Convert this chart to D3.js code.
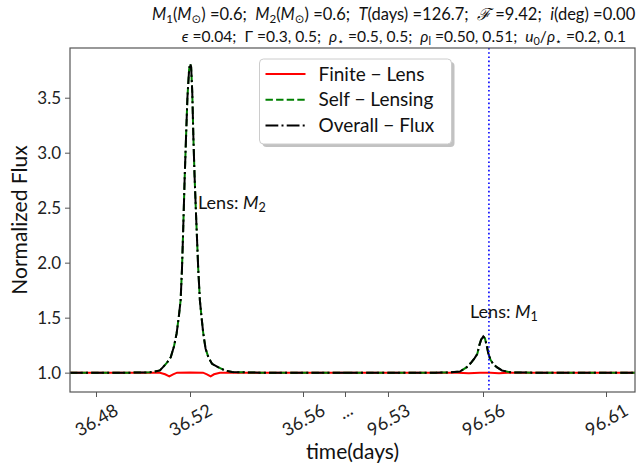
<!DOCTYPE html>
<html><head><meta charset="utf-8">
<script src="https://cdn.jsdelivr.net/npm/d3@7"></script>
<style>body{margin:0;background:#fff}svg{display:block}</style>
</head><body><svg id="c" width="641" height="466"></svg>
<script>
// ---- data ----
const seg1Time    = [36.469,36.495,36.5030,36.5051,36.5072,36.5085,36.5102,36.5118,36.5132,36.5143,36.5153,36.5160,36.5166,36.5171,36.5177,36.5183,36.5189,36.5196,36.5200,36.5204,36.5208,36.5212,36.5216,36.5221,36.5224,36.5229,36.5235,36.5241,36.5247,36.5255,36.5265,36.5278,36.5299,36.5324,36.5349,36.545,36.575];
const seg1Self    = [1.0,1.0,1.003,1.01,1.02,1.05,1.09,1.14,1.24,1.356,1.52,1.657,1.95,2.3,2.75,3.135,3.5,3.75,3.81,3.78,3.55,3.135,2.8,2.46,2.27,1.95,1.657,1.5,1.356,1.22,1.14,1.08,1.05,1.02,1.005,1.0,1.0];
const seg1Overall = [1.0,1.0,1.003,1.01,1.02,1.05,1.09,1.14,1.24,1.356,1.52,1.657,1.95,2.3,2.75,3.135,3.5,3.75,3.81,3.78,3.55,3.135,2.8,2.46,2.27,1.95,1.657,1.5,1.356,1.22,1.14,1.08,1.05,1.02,1.005,1.0,1.0];
const seg1FiniteTime = [36.469,36.503,36.5072,36.5094,36.5112,36.5128,36.5145,36.5200,36.5246,36.5260,36.5273,36.5285,36.5306,36.535,36.575];
const seg1Finite     = [1.0,1.0,0.998,0.985,0.966,0.985,1.0,1.002,1.0,0.985,0.966,0.985,0.998,1.0,1.0];

const seg2Time    = [96.516,96.545,96.5496,96.5527,96.5549,96.5562,96.5573,96.5582,96.5588,96.5594,96.5601,96.5608,96.5615,96.5622,96.5630,96.5641,96.5656,96.5677,96.5710,96.58,96.622];
const seg2Self    = [1.0,1.0,1.002,1.01,1.05,1.09,1.13,1.17,1.246,1.30,1.33,1.31,1.246,1.17,1.12,1.08,1.05,1.02,1.003,1.0,1.0];
const seg2Overall = [1.0,1.0,1.002,1.01,1.05,1.09,1.13,1.17,1.246,1.30,1.33,1.31,1.246,1.17,1.12,1.08,1.05,1.02,1.003,1.0,1.0];
const seg2FiniteTime = [96.516,96.552,96.5555,96.559,96.563,96.5665,96.570,96.622];
const seg2Finite     = [1.0,1.0,0.994,1.0,1.0,0.994,1.0,1.0];

const markerTime = 96.5624;
const xTickValues = [36.48,36.52,36.56,36.575,96.53,96.56,96.61];
const xTickLabels = ["36.48","36.52","36.56","...","96.53","96.56","96.61"];
const yTickValues = [1.0,1.5,2.0,2.5,3.0,3.5];
// broken time axis: scale breakpoints (time) and their fraction of plot width
const xBreakDomain = [36.469,36.48,36.52,36.56,36.575,96.516,96.53,96.56,96.61,96.622];
const xBreakFrac   = [0,0.046,0.2124,0.4124,0.4867,0.4867,0.5628,0.731,0.9487,1];
const yDomain = [0.824,3.952];
const legendLabels = ["Finite \u2212 Lens","Self \u2212 Lensing","Overall \u2212 Flux"];

// ---- layout ----
const W=641,H=466, m={l:70,t:48,r:6,b:74};
const pw=W-m.l-m.r, ph=H-m.t-m.b;
const FONT="Lato, 'Open Sans', sans-serif";
const svg=d3.select("#c").style("font-family",FONT);
const x=d3.scaleLinear().domain(xBreakDomain).range(xBreakFrac.map(f=>m.l+f*pw));
const y=d3.scaleLinear().domain(yDomain).range([m.t+ph,m.t]);

const styles={
  finite:{stroke:"#ff0000",dash:null},
  self:{stroke:"#008000",dash:"7.4,3.2"},
  overall:{stroke:"#000000",dash:"12.8,3.2,2,3.2"}
};
const line=d3.line().x(d=>x(d[0])).y(d=>y(d[1]));
const g=svg.append("g");
function draw(times,vals,st){
  g.append("path").datum(times.map((t,i)=>[t,vals[i]]))
   .attr("d",line).attr("fill","none").attr("stroke",st.stroke).attr("stroke-width",2)
   .attr("stroke-dasharray",st.dash);
}
draw(seg1FiniteTime,seg1Finite,styles.finite);
draw(seg2FiniteTime,seg2Finite,styles.finite);
draw(seg1Time,seg1Self,styles.self);
draw(seg2Time,seg2Self,styles.self);
draw(seg1Time,seg1Overall,styles.overall);
draw(seg2Time,seg2Overall,styles.overall);

// vertical marker
g.append("line").attr("x1",x(markerTime)).attr("x2",x(markerTime))
 .attr("y1",m.t).attr("y2",m.t+ph).attr("stroke","#0000ff").attr("stroke-width",1.6)
 .attr("stroke-dasharray","1.6,2.6");

// axes
const AX="#555";
const xa=svg.append("g").attr("transform",`translate(0,${m.t+ph})`)
 .call(d3.axisBottom(x).tickValues(xTickValues).tickFormat((d,i)=>xTickLabels[i]).tickSizeOuter(0).tickSize(5));
xa.select(".domain").remove();
xa.selectAll(".tick line").attr("stroke",AX);
xa.selectAll(".tick text").attr("y",0).attr("dy","0.35em").attr("fill","#222")
 .style("font-size","18px").style("font-family",FONT)
 .attr("transform",(d,i)=>xTickLabels[i]==="..."?"translate(0,19) rotate(-30)":"translate(0,28) rotate(-30)");
const ya=svg.append("g").attr("transform",`translate(${m.l},0)`)
 .call(d3.axisLeft(y).tickValues(yTickValues).tickFormat(d3.format(".1f")).tickSize(5).tickPadding(4));
ya.select(".domain").remove();
ya.selectAll(".tick line").attr("stroke",AX);
ya.selectAll(".tick text").attr("fill","#222").style("font-size","17px").style("font-family",FONT);
svg.append("rect").attr("x",m.l).attr("y",m.t).attr("width",pw).attr("height",ph)
 .attr("fill","none").attr("stroke",AX).attr("stroke-width",1.2);

// axis labels
svg.append("text").attr("x",m.l+pw/2).attr("y",459).attr("text-anchor","middle")
 .style("font-size","21px").attr("fill","#111").text("time(days)");
svg.append("text").attr("transform",`translate(27,${m.t+ph/2}) rotate(-90)`).attr("text-anchor","middle")
 .style("font-size","21px").attr("fill","#111").text("Normalized Flux");

// rich text helper
function rich(sel,parts){
  parts.forEach(p=>{
    const t=sel.append("tspan").text(p.t);
    if(p.i) t.style("font-style","italic");
    if(p.sub){ t.attr("baseline-shift","-25%").style("font-size","70%"); }
    if(p.f) t.style("font-family",p.f);
  });
  return sel;
}
// title
rich(svg.append("text").attr("x",152).attr("y",20).style("font-size","16.5px").style("white-space","pre").attr("fill","#111"),
 [{t:"M",i:1},{t:"1",sub:1},{t:"("},{t:"M",i:1},{t:"\u2299",sub:1,f:"DejaVu Sans"},{t:") =0.6;  "},
  {t:"M",i:1},{t:"2",sub:1},{t:"("},{t:"M",i:1},{t:"\u2299",sub:1,f:"DejaVu Sans"},{t:") =0.6;  "},
  {t:"T",i:1},{t:"(days) =126.7;  "},{t:"\u2131",i:1},{t:" =9.42;  "},{t:"i",i:1},{t:"(deg) =0.00"}]);
rich(svg.append("text").attr("x",626).attr("y",42).attr("text-anchor","end").style("font-size","15.6px").style("white-space","pre").attr("fill","#111"),
 [{t:"\u03f5",i:1},{t:" =0.04;  \u0393 =0.3, 0.5;  "},{t:"\u03c1",i:1},{t:"\u22c6",sub:1,f:"DejaVu Sans"},{t:" =0.5, 0.5;  "},
  {t:"\u03c1",i:1},{t:"l",sub:1},{t:" =0.50, 0.51;  "},{t:"u",i:1},{t:"0",sub:1},{t:"/"},{t:"\u03c1",i:1},{t:"\u22c6",sub:1,f:"DejaVu Sans"},{t:" =0.2, 0.1"}]);

// annotations
rich(svg.append("text").attr("x",198).attr("y",209).style("font-size","18px").attr("fill","#111"),
 [{t:"Lens: "},{t:"M",i:1},{t:"2",sub:1}]);
rich(svg.append("text").attr("x",470).attr("y",318).style("font-size","18px").attr("fill","#111"),
 [{t:"Lens: "},{t:"M",i:1},{t:"1",sub:1}]);

// legend
const cx=m.l+pw/2;
const lg=svg.append("g");
const lw=192, lh=85, lx=cx-lw/2+3, ly=59;
lg.append("rect").attr("x",lx+3).attr("y",ly+3).attr("width",lw).attr("height",lh).attr("rx",4).attr("fill","#999").attr("opacity",0.6);
lg.append("rect").attr("x",lx).attr("y",ly).attr("width",lw).attr("height",lh).attr("rx",4).attr("fill","#fff").attr("stroke","#ccc");
[styles.finite,styles.self,styles.overall].forEach((st,i)=>{
  const yy=ly+15+i*25.8;
  lg.append("line").attr("x1",lx+6).attr("x2",lx+46).attr("y1",yy).attr("y2",yy)
   .attr("stroke",st.stroke).attr("stroke-width",2).attr("stroke-dasharray",st.dash);
  lg.append("text").attr("x",lx+59).attr("y",yy).attr("dy","0.35em").style("font-size","19px").attr("fill","#111").text(legendLabels[i]);
});
</script></body></html>
